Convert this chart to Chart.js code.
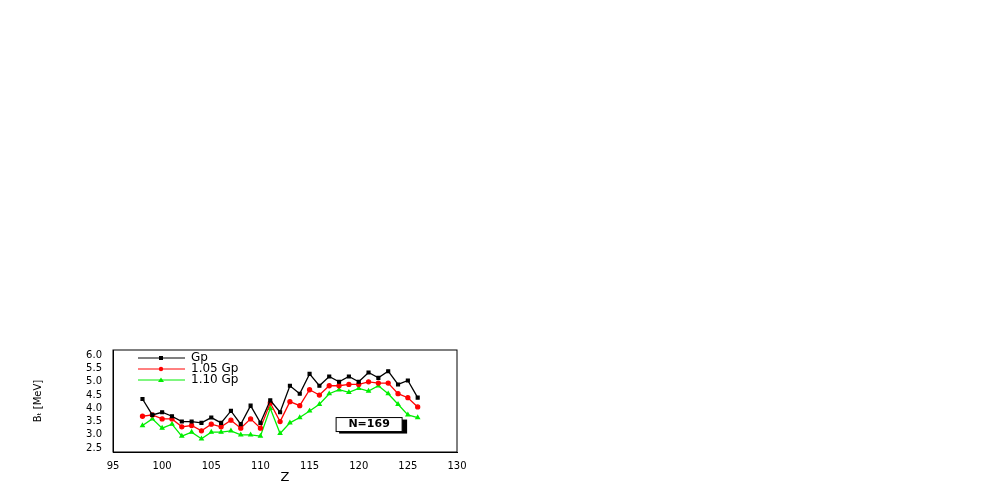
<!DOCTYPE html>
<html><head><meta charset="utf-8">
<script src="https://cdn.jsdelivr.net/npm/chart.js@4"></script>
<style>html,body{margin:0;background:#fff}#c{display:block}</style>
</head><body>
<canvas id="c" width="997" height="485"></canvas>
<script>
const zValues = [98,99,100,101,102,103,104,105,106,107,108,109,110,111,112,113,114,115,116,117,118,119,120,121,122,123,124,125,126];
const gp = [4.35,3.75,3.85,3.7,3.5,3.5,3.45,3.65,3.45,3.9,3.4,4.1,3.45,4.3,3.85,4.85,4.55,5.3,4.85,5.2,5.0,5.2,5.0,5.35,5.15,5.4,4.9,5.05,4.4];
const gp105 = [3.7,3.75,3.6,3.6,3.3,3.35,3.15,3.4,3.3,3.55,3.25,3.6,3.25,4.2,3.5,4.25,4.1,4.7,4.5,4.85,4.85,4.9,4.9,5.0,4.95,4.95,4.55,4.4,4.05];
const gp110 = [3.35,3.6,3.25,3.4,2.95,3.1,2.85,3.1,3.1,3.15,3.0,3.0,2.95,4.0,3.05,3.45,3.65,3.9,4.15,4.55,4.7,4.6,4.75,4.65,4.85,4.55,4.15,3.75,3.65];
const seriesNames = ["Gp", "1.05 Gp", "1.10 Gp"];
const yTicks = [2.5,3.0,3.5,4.0,4.5,5.0,5.5,6.0];
const xTicks = [95,100,105,110,115,120,125,130];

const colors = ["#000000", "#ff0000", "#00ee00"];
const styles = ["rect", "circle", "triangle"];
const allData = [gp, gp105, gp110];

const datasets = allData.map((d, i) => ({
  label: seriesNames[i],
  data: zValues.map((z, k) => ({x: z, y: d[k]})),
  borderColor: colors[i], backgroundColor: colors[i],
  borderWidth: 1.3, pointStyle: styles[i], pointRadius: 2, tension: 0
}));

const extras = {
  id: "extras",
  afterDraw(chart) {
    const ctx = chart.ctx, a = chart.chartArea;
    ctx.save();
    // marco
    ctx.strokeStyle = "#000"; ctx.lineWidth = 1;
    ctx.strokeRect(a.left, a.top, a.right - a.left, a.bottom - a.top);
    ctx.font = "12px 'DejaVu Sans'";
    ctx.textBaseline = "middle";
    // legenda
    seriesNames.forEach((n, i) => {
      const y = a.top + 8 + i * 11;
      ctx.strokeStyle = colors[i]; ctx.fillStyle = colors[i]; ctx.lineWidth = 1;
      ctx.beginPath(); ctx.moveTo(a.left + 25, y); ctx.lineTo(a.left + 72, y); ctx.stroke();
      ctx.beginPath();
      if (i === 0) ctx.rect(a.left + 46, y - 2, 4, 4);
      else if (i === 1) ctx.arc(a.left + 48, y, 2.2, 0, Math.PI * 2);
      else { ctx.moveTo(a.left + 48, y - 2.5); ctx.lineTo(a.left + 51, y + 2); ctx.lineTo(a.left + 45, y + 2); }
      ctx.fill();
      ctx.fillStyle = "#000";
      ctx.fillText(n, a.left + 78, y);
    });
    // caja N=169
    const bx = chart.scales.x.getPixelForValue(117.7), by = chart.scales.y.getPixelForValue(3.65);
    ctx.fillStyle = "#000"; ctx.fillRect(bx + 3, by + 2, 68, 14);
    ctx.fillStyle = "#fff"; ctx.fillRect(bx, by, 66, 14);
    ctx.strokeStyle = "#000"; ctx.strokeRect(bx, by, 66, 14);
    ctx.fillStyle = "#000"; ctx.font = "bold 11px 'DejaVu Sans'"; ctx.textAlign = "center";
    ctx.fillText("N=169", bx + 33, by + 7);
    ctx.restore();
  }
};

new Chart(document.getElementById("c"), {
  type: "line",
  data: { datasets },
  plugins: [extras],
  options: {
    responsive: false, animation: false,
    layout: { padding: { left: 30, right: 540, top: 350, bottom: 0 } },
    plugins: { legend: { display: false }, tooltip: { enabled: false } },
    scales: {
      x: {
        type: "linear", min: 95, max: 130,
        afterBuildTicks: s => { s.ticks = xTicks.map(v => ({value: v})); },
        afterFit: s => { s.height = 33; },
        grid: { display: false },
        border: { color: "#000" },
        ticks: { color: "#000", autoSkip: false, font: { size: 10, family: "DejaVu Sans" }, padding: 0, maxRotation: 0 },
        title: { display: true, text: "Z", color: "#000", font: { size: 13, family: "DejaVu Sans" }, padding: 0 }
      },
      y: {
        min: 2.35, max: 6.2,
        afterBuildTicks: s => { s.ticks = yTicks.map(v => ({value: v})); },
        afterFit: s => { s.width = 83; },
        grid: { display: false },
        border: { color: "#000" },
        ticks: { color: "#000", autoSkip: false, font: { size: 10, family: "DejaVu Sans" }, callback: v => v.toFixed(1) },
        title: { display: true, text: "Bₜ [MeV]", color: "#000", font: { size: 10, family: "DejaVu Sans" }, padding: 2 }
      }
    }
  }
});
</script>
</body></html>
